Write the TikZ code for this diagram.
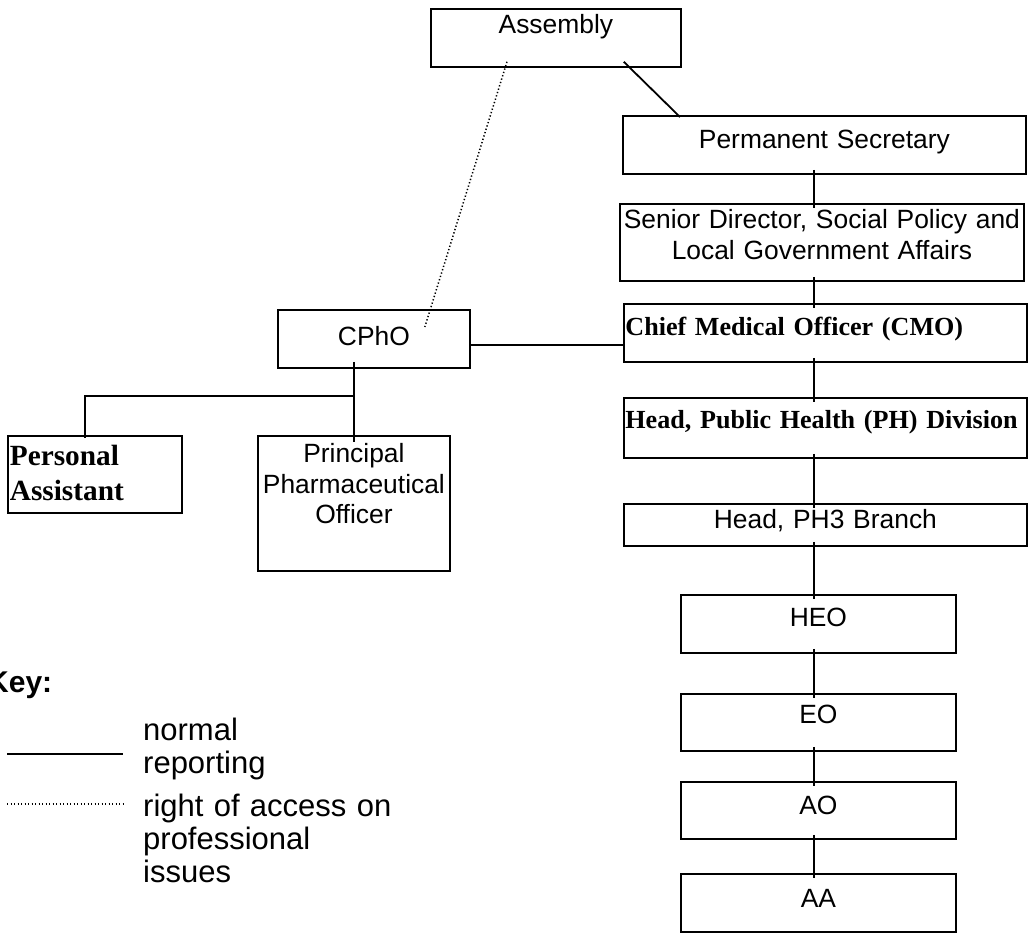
\documentclass[tikz,border=0pt]{standalone}
\usepackage{fontspec}
\setmainfont{Liberation Serif}
\setsansfont{Liberation Sans}
\usetikzlibrary{calc}

\begin{document}
\begin{tikzpicture}[x=1pt, y=-1pt,
  % a box is placed by its top-left corner; text height/depth fix where the first baseline sits
  box/.style={draw, line width=1.8pt, anchor=north west, inner xsep=3pt, inner ysep=0pt,
    align=center, font=\sffamily\fontsize{26.4}{31}\selectfont},
  boldbox/.style={box, inner xsep=1.5pt, align=left, font=\rmfamily\bfseries\fontsize{26.1}{31}\selectfont},
  link/.style={line width=1.8pt},
  access/.style={line width=1.5pt, dash pattern=on 1.3pt off 2.2pt},
  keytext/.style={anchor=base west, inner sep=0pt, text width=320pt, align=left,
    font=\sffamily\fontsize{31}{33}\selectfont},
]
\fill[white] (0,0) rectangle (1028,934);
\useasboundingbox (0,0) rectangle (1028,934);

% main chain
\node[box, text width=244pt, text height=25pt, text depth=33pt] (asm) at (430,8) {Assembly};
\node[box, text width=397pt, text height=33pt, text depth=25pt] (perm) at (622,115) {Permanent Secretary};
\node[box, text width=398pt, text height=25pt, text depth=52pt] (sd) at (619,203)
  {Senior Director, Social Policy and\\Local Government Affairs};
\node[boldbox, text width=400pt, text height=32pt, text depth=26pt] (cmo) at (623,303)
  {\mbox{Chief Medical Officer (CMO)}};
\node[boldbox, text width=400pt, text height=31pt, text depth=29pt] (hph) at (623,397)
  {\mbox{Head, Public Health (PH) Division}};
\node[box, text width=397pt, text height=25pt, text depth=17pt] (ph3) at (623,503) {Head, PH3 Branch};
\node[box, text width=269pt, text height=32pt, text depth=26pt] (heo) at (680,594) {HEO};
\node[box, text width=269pt, text height=30pt, text depth=27pt] (eo) at (680,693) {EO};
\node[box, text width=269pt, text height=33pt, text depth=24pt] (ao) at (680,781) {AO};
\node[box, text width=269pt, text height=34pt, text depth=24pt] (aa) at (680,873) {AA};

% pharmaceutical branch
\node[box, text width=186pt, text height=36pt, text depth=22pt] (cpho) at (277,309) {CPhO};
\node[box, inner xsep=2pt, text width=170pt, text height=30pt, text depth=47pt, align=left,
  font=\rmfamily\bfseries\fontsize{29.3}{35}\selectfont] (pa) at (7,435) {Personal\\Assistant};
\node[box, text width=186pt, text height=27pt, text depth=108pt, font=\sffamily\fontsize{26.4}{30.5}\selectfont]
  (ppo) at (257,435) {Principal\\Pharmaceutical\\Officer};

% connectors
\coordinate (spine) at (814,0);
\draw[link] ($(asm.south east)+(-58,-6)$) -- ($(perm.north west)+(58,2)$);
\draw[access] ($(asm.south west)+(77,-6)$) -- ($(cpho.north east)+(-46,18)$);
\foreach \u/\l in {perm/sd, sd/cmo, cmo/hph, hph/ph3, ph3/heo, heo/eo, eo/ao, ao/aa}
  \draw[link] ($(\u.south -| spine)+(0,-5)$) -- ($(\l.north -| spine)+(0,5)$);
\draw[link] ($(cpho.east)+(0,6)$) coordinate (h) -- (h -| cmo.west);
\path (ppo.north) ++(0,-39) coordinate (fork);
\draw[link] ($(cpho.south -| fork)+(0,-7)$) -- ($(ppo.north)+(0,7)$);
\draw[link] (fork) -| ($(pa.north west)+(78,3)$);

% key
\node[anchor=base west, inner sep=0pt, font=\sffamily\bfseries\fontsize{30}{33}\selectfont]
  (keyhead) at (-13,692) {Key:};
\node[keytext] (normal) at (143,740) {normal\\reporting};
\node[keytext] (rightacc) at (143,816) {right of access on\\professional\\issues};
\coordinate (k1a) at (7,754);
\coordinate (k1b) at (123,754);
\coordinate (k2a) at (7,804);
\coordinate (k2b) at (123,804);
\draw[line width=1.7pt] (k1a) -- (k1b);
\draw[access, line width=1.2pt] (k2a) -- (k2b);
\end{tikzpicture}
\end{document}
